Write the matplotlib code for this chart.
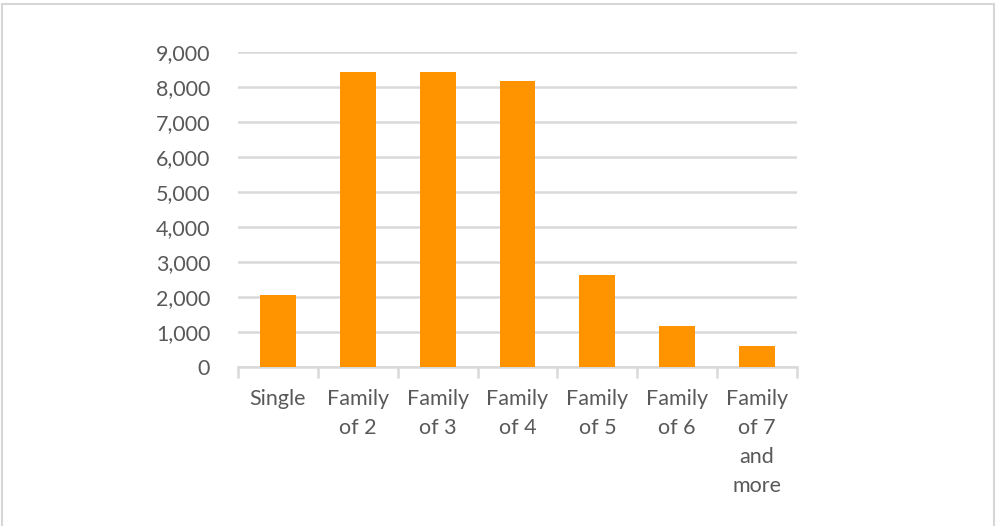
import matplotlib
matplotlib.use("Agg")
import matplotlib.pyplot as plt
import matplotlib.patches as patches
from matplotlib.ticker import FuncFormatter
import numpy as np

categories = ["Single", "Family\nof 2", "Family\nof 3", "Family\nof 4",
              "Family\nof 5", "Family\nof 6", "Family\nof 7\nand\nmore"]
counts = [2070, 8430, 8430, 8170, 2620, 1170, 590]
y_ticks = [0, 1000, 2000, 3000, 4000, 5000, 6000, 7000, 8000, 9000]

BAR_COLOR = "#FF9300"
GRID_COLOR = "#D9D9D9"
TEXT_COLOR = "#595959"

plt.rcParams["font.family"] = ["Lato", "DejaVu Sans"]

fig = plt.figure(figsize=(9.96, 5.26), dpi=100)
ax = fig.add_axes([238 / 996, 1 - 367 / 526, (797 - 238) / 996, (367 - 52) / 526])

x = np.arange(len(categories))
ax.bar(x, counts, width=0.45, color=BAR_COLOR, zorder=3)

ax.set_xlim(-0.5, len(categories) - 0.5)
ax.set_ylim(0, 9000)
ax.set_yticks(y_ticks)
ax.yaxis.set_major_formatter(FuncFormatter(lambda v, _: f"{int(v):,}"))
ax.grid(axis="y", color=GRID_COLOR, linewidth=1.8, zorder=0)

# category labels centred, boundary tick marks below the axis line
ax.set_xticks(x)
ax.set_xticklabels(categories, linespacing=1.55)
ax.set_xticks(np.arange(len(categories) + 1) - 0.5, minor=True)
ax.tick_params(axis="x", which="major", length=0, pad=16,
               labelsize=15.5, labelcolor=TEXT_COLOR)
ax.tick_params(axis="x", which="minor", length=8, width=1.8,
               color=GRID_COLOR, direction="out")
ax.tick_params(axis="y", length=0, pad=20, labelsize=15.5, labelcolor=TEXT_COLOR)
for lbl in ax.get_xticklabels():
    lbl.set_verticalalignment("top")
    lbl.set_horizontalalignment("center")

for side in ("top", "right", "left"):
    ax.spines[side].set_visible(False)
ax.spines["bottom"].set_color(GRID_COLOR)
ax.spines["bottom"].set_linewidth(1.8)

# thin frame around the chart area
fig.patches.append(patches.Rectangle(
    (2 / 996, -0.05), 992 / 996, 1.05 - 4 / 526,
    transform=fig.transFigure, fill=False,
    edgecolor="#D6D6D6", linewidth=1.5))

fig.savefig("out.png", dpi=100, facecolor="white")
